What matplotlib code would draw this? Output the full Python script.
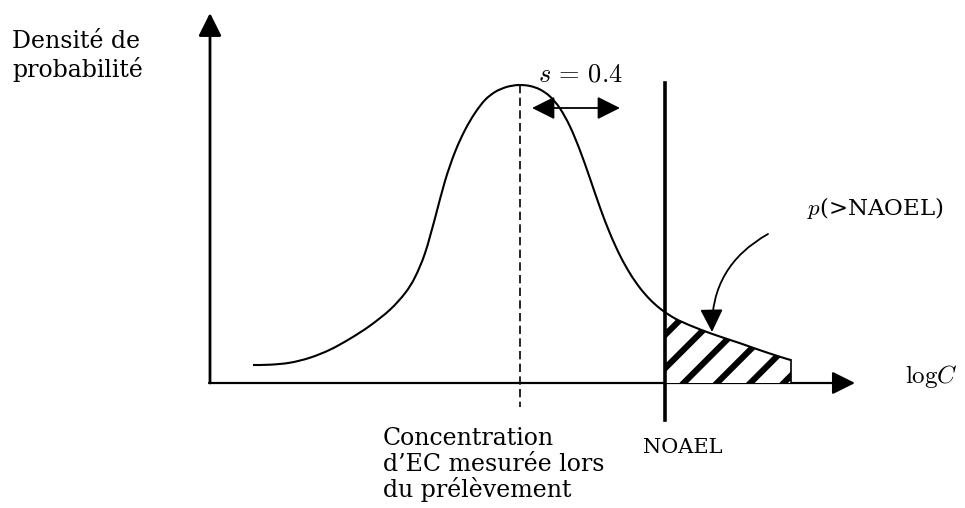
import matplotlib
matplotlib.use('Agg')
import matplotlib.pyplot as plt
from matplotlib.patches import FancyArrowPatch, PathPatch, Rectangle
from matplotlib.path import Path
import numpy as np

plt.rcParams['font.family'] = 'DejaVu Serif'
plt.rcParams['mathtext.fontset'] = 'cm'
plt.rcParams['hatch.linewidth'] = 4.4

curve_x = [253, 270, 290, 310, 330, 350, 370, 390, 405, 415, 425, 435, 445, 455, 465,
           475, 485, 495, 505, 512, 520, 530, 540, 550, 560, 570, 580, 590, 600, 610,
           620, 630, 640, 650, 660, 670, 680, 700, 720, 740, 760, 780, 791]
curve_y = [365, 364.7, 362.7, 357.7, 349.7, 338.7, 325.7, 309.7, 293.2, 277.2, 253.2,
           218.2, 181, 152, 130, 113, 100, 92, 87.5, 85.8, 85, 86, 89.5, 96.5, 108.5,
           126.5, 150.5, 178.5, 207.5, 233.5, 255.5, 273.5, 288, 299.5, 308.5, 315.5,
           321, 329.4, 336.6, 343.2, 350.2, 356.8, 360.1]

origin = (210, 383)
x_tip = 855
y_tip = 13
peak_x = 520
dash_bottom = 407
noael_x = 665
noael_top, noael_bottom = 83, 420
hatch_end = 791
s_arrow_y = 108
s_arrow = (532, 620)
p_arrow = ((768, 234), (712, 332))

fig = plt.figure(figsize=(9.65, 5.08), dpi=100)
ax = fig.add_axes([0, 0, 1, 1])
ax.set_xlim(0, 965)
ax.set_ylim(508, 0)
ax.axis('off')

def fleche(p1, p2, lw, style='-|>', rad=0.0):
    a = FancyArrowPatch(p1, p2, arrowstyle=style + ',head_length=14,head_width=7',
                        mutation_scale=1, lw=lw, color='black',
                        shrinkA=0, shrinkB=0, connectionstyle=f'arc3,rad={rad}')
    ax.add_patch(a)

def trace_lisse(xs, ys):
    # courbe lisse passant par les points (Catmull-Rom -> Bezier)
    p = np.column_stack([xs, ys]).astype(float)
    verts = [p[0]]
    codes = [Path.MOVETO]
    for i in range(len(p) - 1):
        p0 = p[i - 1] if i > 0 else p[i]
        p3 = p[i + 2] if i + 2 < len(p) else p[i + 1]
        c1 = p[i] + (p[i + 1] - p0) / 6
        c2 = p[i + 1] - (p3 - p[i]) / 6
        verts += [c1, c2, p[i + 1]]
        codes += [Path.CURVE4] * 3
    return Path(verts, codes)

# axes
fleche(origin, (origin[0], y_tip), 2.0)
fleche((origin[0] - 1, origin[1]), (x_tip, origin[1]), 1.6)

cx = np.array(curve_x)
cy = np.array(curve_y)

# zone hachuree au-dela du NOAEL
m = cx >= noael_x - 10
zone = ax.fill_between(cx[m], cy[m], origin[1], facecolor='white', edgecolor='black',
                       hatch='/', lw=0, zorder=1)
clip = Rectangle((noael_x, 0), hatch_end - noael_x, origin[1], transform=ax.transData)
zone.set_clip_path(clip)
ax.plot([hatch_end, hatch_end], [cy[-1], origin[1]], color='black', lw=1.2)

ax.add_patch(PathPatch(trace_lisse(curve_x, curve_y), facecolor='none',
                       edgecolor='black', lw=1.5, zorder=3))

# pic et NOAEL
ax.plot([peak_x, peak_x], [min(curve_y), dash_bottom], color='black', lw=1.2,
        linestyle=(0, (5, 2.6)))
ax.plot([noael_x, noael_x], [noael_top, noael_bottom], color='black', lw=2.6, zorder=4)

fleche((s_arrow[0], s_arrow_y), (s_arrow[1], s_arrow_y), 1.3, style='<|-|>')
fleche(p_arrow[0], p_arrow[1], 1.3, rad=0.3)

# textes
for i, t in enumerate(['Densité de', 'probabilité']):
    ax.text(12, 48 + 29 * i, t, fontsize=17, va='baseline', ha='left')
for i, t in enumerate(['Concentration', 'd\u2019EC mesurée lors', 'du prélèvement']):
    ax.text(383, 445 + 26 * i, t, fontsize=17, va='baseline', ha='left')
ax.text(643, 453, 'NOAEL', fontsize=15, va='baseline', ha='left')
ax.text(538, 82, r'$s\,=\,0.4$', fontsize=19, va='baseline', ha='left')
ax.text(807, 215, r'$p$(>NAOEL)', fontsize=16.5, va='baseline', ha='left')
ax.text(905, 383, r'$\mathrm{log}C$', fontsize=18, va='baseline', ha='left')

fig.savefig('out.png', dpi=100)
